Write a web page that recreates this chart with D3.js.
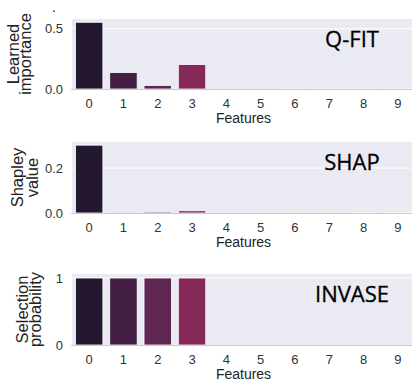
<!DOCTYPE html>
<html>
<head>
<meta charset="utf-8">
<script src="https://d3js.org/d3.v7.min.js"></script>
<style>
  body { margin: 0; background: #fff; }
  svg { display: block; }
  .tick-label { font-family: "Liberation Sans", Arial, sans-serif; font-size: 13px; fill: #333; }
  .axis-title { font-family: "Liberation Sans", Arial, sans-serif; font-size: 14px; fill: #222; }
  .y-title { font-family: "Liberation Sans", Arial, sans-serif; font-size: 16.5px; fill: #222; }
  .method { font-family: "Open Sans", sans-serif; font-size: 22px; fill: #000; stroke: #000; stroke-width: 0.3; }
</style>
</head>
<body>
<svg id="chart" width="412" height="379"></svg>
<script>
// features on the x axis
const features = ["0", "1", "2", "3", "4", "5", "6", "7", "8", "9"];

// one series per panel
const qfitValues   = [0.553, 0.137, 0.03, 0.203, 0.002, 0.002, 0.002, 0.002, 0.002, 0.002];
const shapValues   = [0.302, 0.001, 0.005, 0.01, 0.001, 0.001, 0.001, 0.001, 0.001, 0.001];
const invaseValues = [1, 1, 1, 1, 0, 0, 0, 0, 0, 0];

// y ticks per panel
const qfitTicks   = [0.0, 0.5];
const shapTicks   = [0.0, 0.2];
const invaseTicks = [0, 1];

// bar colours (dark purple -> magenta)
const barColors = ["#241830", "#441f44", "#5e2650", "#862a5b", "#a8235a",
                   "#c52a55", "#dc4a4c", "#ea6e55", "#f19476", "#f5b999"];

const svg = d3.select("#chart");

// plot area, shared horizontal extent
const left = 72, right = 415;

const x = d3.scaleBand().domain(features).range([left, right]).paddingInner(0.2).paddingOuter(0.1);

const panels = [
  { name: "Q-FIT",  values: qfitValues,   ticks: qfitTicks,   fmt: d3.format(".1f"), ymax: 0.58,
    top: 19,  bottom: 89,  label: ["Learned", "importance"], labelX: [18.5, 31] },
  { name: "SHAP",   values: shapValues,   ticks: shapTicks,   fmt: d3.format(".1f"), ymax: 0.316,
    top: 142, bottom: 213, label: ["Shapley", "value"],      labelX: [23, 38] },
  { name: "INVASE", values: invaseValues, ticks: invaseTicks, fmt: d3.format("d"),   ymax: 1.06,
    top: 274, bottom: 345, label: ["Selection", "probability"], labelX: [28, 40.5] }
];

panels.forEach(p => {
  const y = d3.scaleLinear().domain([0, p.ymax]).range([p.bottom, p.top]);
  const g = svg.append("g");

  // background
  g.append("rect")
    .attr("x", left).attr("y", p.top)
    .attr("width", right - left).attr("height", p.bottom - p.top)
    .attr("fill", "#eaeaf2");

  // horizontal grid
  g.selectAll(".grid")
    .data(p.ticks.filter(t => t > 0))
    .enter().append("line")
    .attr("x1", left).attr("x2", right)
    .attr("y1", d => y(d)).attr("y2", d => y(d))
    .attr("stroke", "#fff").attr("stroke-width", 1);

  // bars
  g.selectAll(".bar")
    .data(p.values)
    .enter().append("rect")
    .attr("x", (d, i) => x(features[i]))
    .attr("y", d => y(d))
    .attr("width", x.bandwidth())
    .attr("height", d => p.bottom - y(d))
    .attr("fill", (d, i) => barColors[i])
    .attr("stroke", "#fff")
    .attr("stroke-width", 0.8);

  // bottom spine
  g.append("line")
    .attr("x1", left - 1).attr("x2", right)
    .attr("y1", p.bottom + 0.5).attr("y2", p.bottom + 0.5)
    .attr("stroke", "#ccc").attr("stroke-width", 1);

  // y tick labels
  g.selectAll(".ytick")
    .data(p.ticks)
    .enter().append("text")
    .attr("class", "tick-label")
    .attr("x", 63)
    .attr("y", d => y(d))
    .attr("dy", "0.35em")
    .attr("text-anchor", "end")
    .text(d => p.fmt(d));

  // x tick labels
  g.selectAll(".xtick")
    .data(features)
    .enter().append("text")
    .attr("class", "tick-label")
    .attr("x", d => x(d) + x.bandwidth() / 2)
    .attr("y", p.bottom + 18.5)
    .attr("text-anchor", "middle")
    .text(d => d);

  // x title
  g.append("text")
    .attr("class", "axis-title")
    .attr("x", (x("0") + x("9") + x.bandwidth()) / 2)
    .attr("y", p.bottom + 34)
    .attr("text-anchor", "middle")
    .text("Features");

  // y title, two lines
  const cy = (p.top + p.bottom) / 2;
  p.label.forEach((line, i) => {
    g.append("text")
      .attr("class", "y-title")
      .attr("transform", `translate(${p.labelX[i]},${cy}) rotate(-90)`)
      .attr("text-anchor", "middle")
      .text(line);
  });

  // method name
  g.append("text")
    .attr("class", "method")
    .attr("x", 352)
    .attr("y", p.top + 27.5)
    .attr("text-anchor", "middle")
    .text(p.name);
});

// stray dot at the top
svg.append("text")
  .attr("class", "axis-title")
  .attr("x", 52).attr("y", 12)
  .text(".");
</script>
</body>
</html>
